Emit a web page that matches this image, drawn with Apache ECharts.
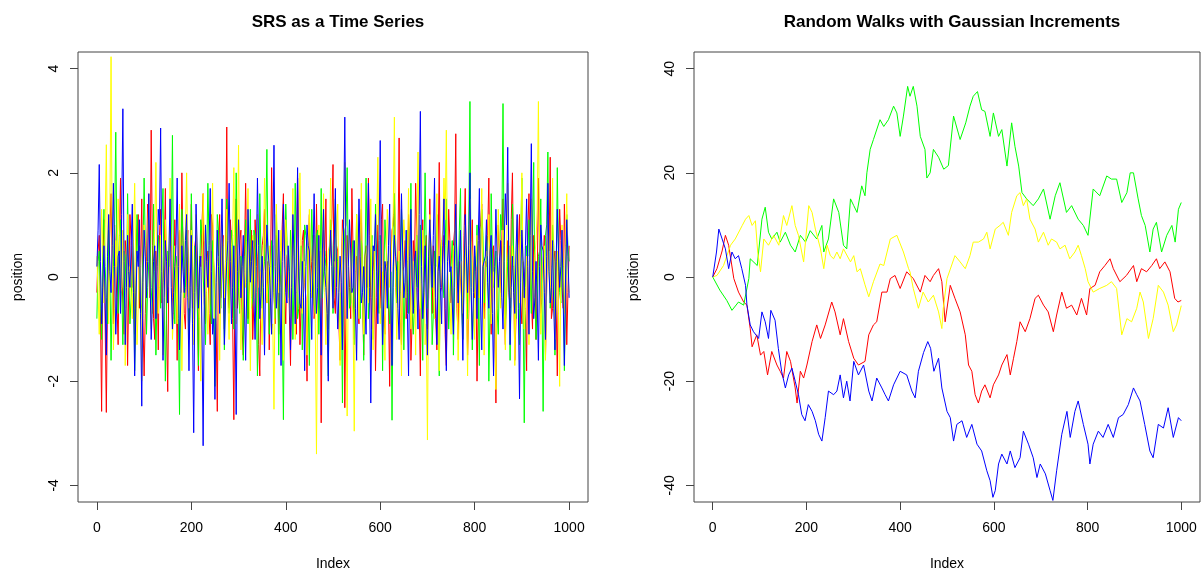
<!DOCTYPE html>
<html>
<head>
<meta charset="utf-8">
<script src="https://cdn.jsdelivr.net/npm/echarts@6/dist/echarts.min.js"></script>
<style>
html,body{margin:0;padding:0;background:#fff;}
#chart{width:1201px;height:576px;}
</style>
</head>
<body>
<div id="chart"></div>
<script>
// ---------- data ----------
const titles = ['SRS as a Time Series', 'Random Walks with Gaussian Increments'];
const xName = 'Index';
const yName = 'position';
const xTicks = [0, 200, 400, 600, 800, 1000];
const ySrsTicks = [-4, -2, 0, 2, 4];
const yWalkTicks = [-40, -20, 0, 20, 40];
const seriesColors = ['#ff0000', '#00ff00', '#ffff00', '#0000ff'];
const indexRange = [0, 1000];

// SRS values, read along the index axis (evenly spaced from index 0 to 1000)
const srsRed = [-0.3,0.5,0.8,-0.6,-2.58,0.2,1.1,-0.9,-2.6,-0.4,0.4,0.9,1.6,0.3,-0.9,1.0,0.2,-0.5,-1.3,0.6,
1.9,0.1,-0.5,-1.1,0.7,0.4,-1.7,-0.2,1.2,0.7,-0.2,0.5,-1.1,-0.3,0.9,1.2,-0.6,0.2,1.5,-0.8,
-1.9,-0.7,0.3,1.4,1.0,-0.4,2.82,0.6,-0.8,-1.2,0.5,0.1,-1.4,0.8,1.3,-0.5,-0.1,0.4,1.7,-0.9,
-2.2,0.3,0.6,1.1,-0.4,-0.8,1.1,0.2,-1.6,0.7,0.9,-0.3,2.0,0.5,-0.7,-1.0,0.4,0.9,-1.2,0.1,
1.4,-0.6,-0.3,0.6,0.8,-0.2,-1.8,0.4,0.2,1.0,1.6,-0.5,-0.9,0.3,0.5,-0.7,-1.3,1.2,1.0,0.2,
-0.5,-0.9,-2.58,0.5,1.2,-0.4,0.1,0.8,-1.0,0.3,2.88,-0.2,-0.6,1.1,0.7,-0.8,-2.74,0.0,1.5,-0.6,
-0.2,0.7,0.9,-1.0,-1.5,0.4,1.8,0.2,-0.8,-0.3,0.3,0.9,-1.2,-0.5,1.1,0.6,0.4,-1.3,-1.9,0.1,
0.6,0.8,1.3,-0.4,-0.5,0.3,-1.4,-0.1,2.1,0.5,-0.3,-0.9,0.8,0.6,-1.1,-0.2,0.2,1.0,1.6,-0.3,
-0.9,0.4,0.5,-0.6,-1.7,0.2,1.0,0.7,-0.4,-1.1,1.9,0.3,-1.3,-0.5,0.7,0.9,-0.1,-0.4,-2.0,0.6,
1.2,-0.2,0.3,0.8,-0.8,-0.6,1.4,0.1,-0.6,0.5,-2.8,-0.3,0.9,0.4,1.5,-0.7,-1.0,0.2,0.2,1.1,
2.16,-0.4,-0.7,0.6,0.5,-0.9,-1.6,0.0,1.1,0.7,-2.51,-0.5,0.8,0.3,-0.2,-0.8,1.7,0.5,-1.2,0.2,
0.4,-0.6,-0.9,0.9,1.3,-0.3,-1.5,0.4,0.6,-0.2,1.9,0.8,-0.4,-1.0,0.1,0.6,-1.8,-0.4,1.0,0.3,
-0.6,1.1,1.4,-0.7,-1.1,0.2,0.3,-0.5,-2.1,0.4,0.9,1.0,1.6,-0.2,-0.5,0.5,2.67,-0.8,-1.3,0.1,
0.2,0.7,-0.8,-0.3,1.2,0.6,-1.6,-0.9,0.7,0.2,1.8,0.9,-0.3,-0.6,-1.9,0.3,1.1,-0.1,0.4,0.8,
-1.0,-0.4,1.5,0.2,-0.7,0.6,0.2,-0.8,-1.4,0.5,2.2,-0.3,-0.2,0.4,0.8,-1.1,-1.7,0.1,1.3,0.7,
-0.5,-0.2,0.6,0.9,2.75,-0.6,-1.2,0.3,0.3,-0.4,-0.9,0.8,1.7,0.0,-1.5,-0.7,0.5,0.6,1.1,-0.3,
-0.4,0.2,-2.0,-0.5,0.9,1.0,1.4,-0.4,-0.8,0.3,0.2,0.8,1.9,-0.2,-1.1,0.5,0.6,-0.9,-2.42,0.1,
1.0,0.4,-0.3,0.7,1.5,-0.6,-1.3,0.2,0.7,-0.3,-0.6,1.1,2.0,0.0,-1.6,-0.8,0.4,0.6,1.2,-0.5,
-0.9,0.3,0.1,-0.7,-1.8,0.9,1.6,0.2,-0.4,-1.0,0.8,0.4,-1.2,-0.1,1.9,0.6,-0.7,-0.4,0.3,0.8,
-1.5,-0.2,1.1,0.5,2.3,-0.8,-0.6,0.3,0.5,-0.5,-1.9,0.1,1.3,0.7,-0.2,-0.6,1.4,0.4,-1.3,-0.3,0.6];
const srsGreen = [-0.8,0.3,0.5,-0.4,-1.2,0.6,1.3,0.2,-0.4,-0.9,0.9,0.1,-1.6,-0.3,0.2,1.0,2.78,0.4,-0.7,0.8,
1.1,-0.2,-1.3,0.5,0.4,-0.6,1.6,0.2,-0.9,-0.4,0.1,0.7,-1.8,-0.5,1.2,0.3,0.6,-0.8,-0.5,0.4,
1.9,0.6,-1.1,-0.2,0.3,0.9,-0.2,-0.7,1.4,0.1,-1.5,-0.3,0.8,0.5,-0.6,1.1,1.7,-0.4,-2.0,-0.6,
0.5,0.2,1.0,0.6,2.72,-0.1,-0.9,0.4,0.2,-0.8,-2.64,0.3,1.3,0.7,-0.4,-0.2,0.9,0.5,-1.2,-0.6,
1.6,0.2,-0.8,0.6,0.4,-0.5,-1.7,0.1,1.1,0.8,0.0,-0.4,-1.3,0.3,1.8,0.7,-0.5,-0.9,0.7,0.2,
-2.1,-0.3,1.2,0.9,-0.3,-0.6,0.6,0.4,-1.4,-0.1,1.5,0.5,-0.7,-0.2,0.9,0.8,-1.0,0.0,2.0,0.6,
-0.2,-0.7,0.4,0.3,-1.6,-0.4,1.1,0.5,-0.9,0.2,1.3,-0.6,-0.4,0.9,0.8,-0.3,-1.9,-0.5,1.6,0.4,
-0.6,0.1,0.3,1.0,2.45,0.2,-1.1,-0.5,0.7,0.6,-0.3,-0.8,1.2,0.3,-1.5,-0.2,0.5,-0.9,-2.74,0.1,
1.4,0.7,-0.2,-0.4,0.9,0.5,-1.2,-0.1,1.8,0.3,-0.8,-0.6,0.1,0.6,-1.4,-0.3,1.0,0.8,0.6,-0.5,
-1.7,0.2,1.3,0.4,-0.5,-0.7,0.8,0.9,-1.1,0.0,1.7,-0.4,-0.4,0.5,0.2,-0.8,-1.9,0.3,1.1,0.6,
-0.7,-0.2,1.5,0.4,0.3,-0.6,-1.0,-0.3,-2.42,0.2,0.9,1.0,2.1,0.1,-0.6,-0.5,0.4,0.7,-1.3,-0.2,
1.2,0.3,-0.1,-0.8,0.7,0.5,-1.6,0.0,1.9,0.6,-0.8,-0.4,0.5,0.8,-1.2,-0.3,1.4,0.2,-0.3,-0.7,
0.8,0.4,-1.8,-0.1,1.1,0.6,0.2,-0.5,-0.9,0.1,-2.75,-0.2,1.6,0.7,-0.5,0.3,0.3,-0.6,1.3,0.5,
-1.4,-0.3,0.6,0.9,-0.7,0.2,1.8,-0.4,-1.1,-0.6,0.4,0.8,-0.2,0.1,1.0,-0.5,-1.6,0.3,2.0,0.6,
-0.6,-0.2,0.9,0.4,-1.3,-0.7,0.5,0.2,1.2,-0.3,-1.9,0.5,0.7,-0.1,-0.4,0.6,1.5,0.1,-1.0,-0.4,
0.2,0.7,-1.5,-0.2,1.1,0.3,-0.3,0.9,1.7,-0.5,-1.2,0.0,0.6,0.4,-0.8,1.0,3.37,-0.3,-1.4,-0.6,
0.4,0.2,1.0,-0.4,-1.7,0.5,1.3,0.8,-0.5,-0.2,0.8,0.3,-2.0,-0.7,1.6,0.4,-0.2,0.1,0.5,-0.6,
-1.1,0.2,1.2,0.9,3.33,0.3,-0.9,-0.4,0.3,0.6,-1.6,-0.1,1.4,0.5,-0.4,-0.8,0.9,0.2,-1.3,0.7,
1.9,-0.5,-2.8,-0.2,0.6,0.4,1.1,0.0,-0.7,0.8,2.2,-0.3,-1.2,-0.6,0.4,0.5,1.5,-0.4,-2.58,-0.1,
0.8,1.0,2.4,0.2,-0.6,-0.3,1.0,0.6,-1.5,-0.2,2.1,0.4,-0.3,-0.5,0.7,0.1,-1.8,-0.4,1.2,0.6,0.3];
const srsYellow = [0.4,-0.3,-1.1,0.2,1.3,0.6,-0.5,1.0,2.54,0.3,-0.9,1.2,4.23,0.5,-1.4,-0.6,0.7,0.2,1.5,0.8,
-0.3,-0.2,0.9,0.4,-1.7,-0.5,1.2,0.1,0.2,-0.4,-0.8,0.7,1.8,0.3,-1.3,-0.6,0.5,0.2,-2.0,-0.3,
1.0,0.5,-0.4,0.8,1.6,-0.1,-1.0,-0.5,0.3,0.9,2.2,0.4,-0.7,-0.2,0.8,0.3,-1.5,-0.6,1.1,0.6,
-0.2,0.2,1.9,0.4,-1.2,-0.7,0.6,0.1,-0.9,0.5,1.4,-0.3,-1.8,-0.4,0.2,0.9,2.0,0.3,-0.6,-0.2,
0.9,0.6,-1.3,-0.5,1.2,0.4,-0.1,-0.8,-2.0,0.1,1.6,0.7,0.4,-0.3,-1.1,-0.4,0.7,0.5,1.8,0.2,
-0.8,-0.6,0.3,0.4,-1.6,-0.2,1.0,0.6,-0.4,0.3,1.3,-0.5,-1.2,-0.1,0.6,0.8,2.1,0.2,-0.9,0.6,
2.53,-0.2,-1.4,-0.6,0.5,0.1,-0.2,0.7,1.7,-0.3,-1.8,-0.4,0.8,0.5,-0.6,0.3,1.2,-0.2,0.1,-0.7,
-1.3,0.4,1.9,0.6,-0.5,-0.1,0.6,0.2,-1.0,-0.9,-2.54,0.0,1.4,0.5,-0.3,0.3,0.9,-0.4,-1.6,0.2,
1.1,0.6,0.2,-0.5,-0.8,0.4,1.7,0.1,-1.2,-0.3,0.4,0.8,2.0,0.3,-0.7,-0.2,0.3,-0.6,-1.5,0.5,
1.3,0.2,-0.4,-0.1,0.8,-0.9,-3.40,-0.2,1.0,0.4,-0.9,0.7,1.6,-0.3,-1.3,0.1,0.5,0.6,1.9,-0.2,
-0.6,0.3,0.2,0.8,1.4,-0.4,-1.7,0.0,0.7,1.0,2.2,-0.5,-2.67,0.2,0.9,0.4,-0.3,-0.8,-2.96,0.1,
1.2,0.5,-0.8,0.3,1.8,-0.2,-1.1,-0.4,0.4,0.6,-0.5,0.2,1.5,-0.3,-1.4,0.5,0.6,0.9,2.3,0.1,
-0.9,-0.4,0.1,-0.6,-1.6,0.3,1.3,0.6,-0.2,0.2,0.8,1.2,3.07,0.0,-1.2,-0.5,0.5,-0.3,-1.9,0.4,
1.1,0.7,-0.4,0.3,1.7,-0.2,-1.0,-0.6,0.3,0.2,-1.5,0.8,2.4,0.4,-0.6,-0.1,0.9,0.5,-1.3,-0.9,
-3.13,-0.1,1.2,0.6,0.4,-0.2,-0.8,0.3,1.6,-0.4,-1.8,-0.3,0.7,0.9,1.9,1.1,2.82,0.2,-0.3,-0.5,
-1.1,0.0,0.6,0.5,1.4,-0.2,-1.6,-0.6,0.2,0.3,-0.7,0.4,1.0,-0.5,-1.9,0.1,1.5,0.7,0.3,-0.4,
-1.2,0.2,0.8,0.6,-0.4,0.3,1.7,-0.1,-1.5,-0.6,0.5,0.4,1.2,0.0,-0.9,-0.3,0.1,-0.7,-2.16,0.2,
1.3,0.5,-0.6,0.1,0.9,-0.5,-1.4,0.4,1.8,0.6,-0.2,-0.4,0.6,0.2,-1.7,-0.3,1.1,0.5,-0.5,0.8,
2.0,0.1,-1.0,-0.6,0.4,0.3,-1.3,0.2,1.5,-0.2,-0.8,0.4,0.7,1.3,3.37,0.3,-1.1,-0.5,0.3,0.6,
-1.6,-0.2,1.2,0.5,-0.4,0.2,1.9,-0.3,-1.2,-0.4,0.5,-0.7,-2.1,0.3,1.0,0.2,-0.7,0.6,1.6,0.1,-0.3];
const srsBlue = [0.2,0.9,2.16,0.3,-0.9,-0.2,0.6,-0.5,-1.5,0.4,1.2,0.1,-0.3,0.6,1.8,0.2,-1.1,-0.4,0.4,0.5,
-0.7,1.2,3.23,0.3,-1.3,-0.2,0.8,0.1,-0.2,0.6,1.4,-0.3,-1.9,-0.6,0.5,0.2,1.1,-0.7,-2.48,-0.1,
0.9,0.4,-0.4,0.3,1.6,0.0,-1.2,-0.5,0.3,0.6,-0.8,0.2,1.3,1.0,2.86,0.1,-1.6,-0.4,0.7,0.3,
-0.5,0.5,1.5,-0.2,-1.0,-0.3,0.2,0.6,1.9,0.2,-1.4,-0.5,0.6,0.1,-0.3,0.7,1.2,-0.4,-1.8,-0.2,
0.8,-0.9,-2.99,-0.3,1.4,0.5,-0.6,0.2,0.4,-1.0,-3.24,-0.4,1.0,0.3,-0.2,0.6,1.7,0.1,-1.1,-0.8,
-2.35,-0.1,0.9,0.2,-0.7,0.5,1.5,0.0,-1.3,-0.4,0.3,0.7,1.8,0.3,-0.9,-0.2,0.6,-0.6,-2.64,0.1,
1.1,0.4,-0.4,0.2,0.8,-0.5,-1.6,-0.1,1.3,0.5,-0.1,0.3,0.7,-0.4,-1.2,0.2,1.9,0.6,-0.8,-0.3,
0.4,-0.2,-1.5,0.1,1.0,0.5,0.2,-0.4,-1.1,0.6,2.53,0.2,-0.6,-0.1,0.9,-0.3,-1.7,0.3,1.4,0.4,
-0.3,-0.5,0.6,0.1,-1.4,-0.2,1.2,0.4,-0.9,0.5,2.1,0.0,-0.5,-0.6,0.3,-0.4,-1.8,0.2,1.0,0.6,
0.5,-0.3,-1.2,0.3,1.6,0.2,-0.7,-0.2,0.8,-0.4,-1.5,0.5,1.3,0.1,-0.2,-0.7,-2.0,0.3,0.9,0.2,
-0.6,0.6,1.7,-0.2,-1.0,-0.3,0.4,-0.1,-1.4,1.1,3.07,0.4,-0.8,0.2,1.1,0.5,-0.3,-0.2,0.7,-0.6,
-1.6,0.0,1.5,0.4,-0.5,-0.3,0.2,-0.5,-1.1,0.6,1.8,-0.2,-2.42,-0.4,0.6,0.5,1.2,0.1,-0.9,0.7,
2.62,0.2,-1.3,-0.5,0.3,0.1,-0.6,0.6,1.4,-0.3,-1.7,0.2,0.8,0.4,0.1,-0.6,-1.2,0.3,1.6,0.5,
-0.4,-0.1,0.9,-0.7,-1.9,0.4,1.3,0.0,-0.7,0.3,0.5,-0.2,-1.0,1.2,3.18,0.2,-0.8,-0.3,0.6,-0.5,
-1.5,0.4,1.1,0.5,-0.2,0.8,1.9,-0.4,-1.3,0.1,0.4,-0.2,-0.9,0.6,1.5,-0.6,-1.8,0.3,0.7,0.1,
0.2,-0.5,-1.1,0.5,1.4,0.2,-0.5,0.3,0.9,-0.4,-1.6,0.0,1.2,0.4,-0.3,0.6,2.0,-0.2,-1.2,-0.3,
0.6,0.1,-0.8,0.7,1.7,-0.5,-1.4,0.2,0.3,0.4,1.1,-0.1,-0.6,0.5,0.8,-0.7,-1.9,0.2,1.3,0.4,
-0.2,0.3,0.7,-0.4,-1.0,0.6,1.6,1.0,2.49,0.0,-1.3,-0.2,0.4,-0.3,-0.7,0.5,1.2,-0.6,-2.34,-0.1,
0.9,0.3,-0.4,0.6,1.5,0.2,-1.1,0.8,2.56,0.1,-0.8,-0.4,0.3,-0.5,-1.6,0.2,1.0,0.6,0.5,-0.3,
-1.2,0.4,1.8,0.1,-0.5,-0.2,0.7,-0.6,-1.4,0.3,1.3,0.5,-0.2,0.2,0.9,-0.5,-1.7,0.0,1.1,0.4,-0.4];

// Random walks: [index, position] readings taken along each line
const walkRed = [[0,0],[9,1.6],[20,5],[27,8],[34,6.1],[45,-0.3],[55,-2.9],[66,-4.8],[73,-5.4],[80,-9.9],[84,-13.4],[94,-11.1],[102,-15],[109,-14.3],[117,-18.8],[126,-14.3],[137,-16.9],[144,-18.1],[151,-19.4],[158,-14.3],[166,-16.2],[176,-21.3],[180,-24.2],[187,-18.1],[194,-19.4],[201,-16.9],[212,-12.4],[222,-9.2],[230,-11.8],[240,-9.2],[254,-4.8],[261,-6.7],[272,-11.1],[279,-8],[290,-12.4],[301,-15.6],[311,-16.9],[325,-16.2],[333,-11.1],[343,-9.2],[350,-8.6],[361,-2.9],[372,-2.9],[379,-0.3],[389,0.3],[400,-2.2],[414,1],[428,-0.3],[443,-2.9],[453,0.3],[464,-0.9],[471,0.3],[482,1.6],[489,-0.9],[496,-8.6],[507,-1.6],[517,-4.1],[528,-6.7],[539,-11.1],[546,-16.9],[553,-18.1],[560,-22.6],[567,-24.2],[574,-21.9],[581,-20.7],[592,-23.2],[599,-20.7],[610,-18.8],[617,-16.9],[628,-14.9],[635,-18.8],[642,-15.6],[649,-12.4],[656,-8.6],[667,-10.5],[677,-8],[688,-4.1],[695,-3.5],[706,-5.4],[716,-6.7],[727,-10.5],[734,-7.3],[745,-2.9],[755,-6],[766,-5.4],[777,-7.3],[787,-4.1],[798,-7.3],[805,-2.2],[816,-1.6],[826,1],[837,2.2],[848,3.5],[855,1.6],[869,-0.9],[883,0.3],[898,2.2],[905,-0.9],[915,1.6],[926,1],[937,2.2],[947,3.5],[954,1.6],[965,2.9],[976,1],[986,-4.1],[993,-4.8],[1000,-4.5]];
const walkGreen = [[0,0],[15,-2.5],[30,-4.5],[41,-6.4],[55,-4.8],[66,-5.4],[77,-0.3],[80,3.5],[95,2.2],[105,11.1],[112,13.4],[119,8.6],[126,7.3],[137,8.6],[144,6.7],[155,8.6],[166,6.1],[176,4.8],[187,8.0],[198,6.7],[208,8.9],[222,7.3],[233,9.9],[237,4.8],[247,7.3],[258,15],[269,12.4],[279,6.1],[286,5.4],[294,15],[301,13.7],[308,12.4],[318,17.5],[325,15.6],[329,20],[336,24.5],[343,26.4],[357,30.2],[365,28.9],[375,30.2],[386,32.8],[393,31.5],[400,27],[407,30.9],[416,36.6],[421,34.7],[428,36.6],[436,32.8],[443,27],[453,24.5],[457,19],[464,20],[471,24.5],[482,23],[493,20.7],[503,21.4],[514,30.9],[528,26.4],[540,29.6],[549,32.8],[556,34.7],[565,35.6],[574,32.1],[581,31.8],[592,27],[599,31.5],[610,27],[617,28.3],[628,21.3],[638,29.6],[645,25.1],[653,21.3],[660,16.2],[670,15],[684,13.7],[695,15],[706,16.9],[720,11.1],[731,15.6],[741,18.1],[755,12.4],[766,13.7],[780,11.1],[791,9.9],[801,8.0],[812,16.9],[826,15.6],[841,19.4],[851,18.8],[862,18.8],[873,14.3],[884,16.2],[891,20],[898,20],[908,15],[915,11.8],[923,9.9],[933,4.8],[940,9.2],[947,10.5],[958,4.8],[969,8.0],[980,9.9],[987,6.7],[994,13],[1000,14.3]];
const walkYellow = [[0,0],[9,0.3],[23,2.2],[38,6.1],[48,7.3],[63,9.9],[70,11.1],[77,11.8],[84,9.9],[91,10.8],[96,4.8],[102,1],[109,7.3],[119,6.1],[130,8],[141,6.1],[151,11.8],[158,9.9],[169,13.7],[176,9.9],[183,8],[194,2.9],[205,13.7],[212,12.4],[219,9.2],[230,5.4],[237,1.6],[244,6.1],[251,4.1],[258,3.5],[265,4.8],[272,3.5],[279,5.4],[294,2.9],[301,4.1],[308,1],[315,1.6],[325,-1.5],[333,-3.8],[343,-0.9],[357,2.5],[365,2.2],[379,7.3],[393,8],[407,4.8],[418,1.6],[421,1],[428,-2.2],[439,-6.0],[449,-2.9],[460,-4.8],[471,-3.5],[482,-6.7],[489,-9.9],[492,-6],[500,-0.3],[507,1.5],[517,4.1],[528,2.9],[539,1.6],[549,4.1],[556,6.7],[567,6.7],[578,7.3],[585,8.6],[592,5.4],[603,9.2],[613,9.9],[620,10.5],[631,8],[638,12.4],[649,15.6],[656,16.2],[663,13.7],[670,15],[677,11.1],[688,9.2],[695,6.7],[706,8.6],[716,6.1],[723,7.3],[734,6.7],[741,5.4],[752,6.1],[762,3.5],[773,4.8],[780,6.1],[787,4.1],[795,1.6],[801,-0.9],[812,-2.9],[826,-2.2],[841,-1.6],[851,-0.9],[862,-2.2],[873,-11.1],[884,-8],[894,-8.6],[905,-6],[912,-2.9],[919,-4.8],[930,-11.8],[940,-8],[951,-1.6],[962,-2.9],[972,-5.4],[983,-10.5],[990,-9.2],[1000,-5.5]];
const walkBlue = [[0,0],[8,4.8],[13,9.2],[20,7.3],[27,5.4],[34,1.6],[41,4.8],[48,3.5],[55,4.1],[62,1.6],[66,1.6],[70,-1.6],[73,-5.4],[80,-9.2],[87,-10.5],[98,-11.8],[105,-6.7],[112,-8.6],[119,-11.8],[124,-6.4],[133,-8.3],[140,-13.7],[147,-18.1],[155,-21.3],[162,-18.8],[169,-17.5],[176,-20],[183,-22.6],[190,-26.4],[197,-27.6],[204,-24.5],[212,-25.8],[219,-27.6],[226,-30.2],[233,-31.5],[240,-27],[247,-21.9],[258,-22.6],[265,-21.9],[272,-18.8],[279,-23.2],[286,-20],[293,-23.8],[301,-16.2],[311,-18.8],[322,-16.9],[333,-21.9],[340,-23.8],[350,-19.4],[361,-21.3],[368,-22.6],[375,-23.8],[386,-20.7],[400,-18.1],[414,-18.8],[425,-21.9],[432,-23.2],[439,-18.1],[450,-14.5],[459,-12.4],[465,-13.7],[472,-18.1],[482,-15.6],[489,-21.3],[500,-25.8],[507,-27],[514,-31.5],[521,-28.3],[532,-27.6],[542,-30.8],[553,-28.3],[564,-32.1],[574,-33.4],[585,-37.2],[592,-39.1],[598,-42.3],[603,-41],[610,-35.9],[617,-34],[628,-35.9],[635,-33.4],[645,-36.6],[656,-34.7],[663,-29.6],[674,-32.1],[684,-34.7],[692,-38.5],[699,-35.9],[710,-37.8],[720,-41],[726,-42.9],[734,-37.2],[745,-30.2],[756,-25.8],[763,-30.8],[773,-25.8],[780,-23.8],[791,-28.3],[801,-32.1],[805,-35.9],[812,-32.1],[823,-29.6],[833,-30.8],[844,-28.3],[855,-30.8],[866,-27],[876,-26.4],[887,-24.5],[898,-21.3],[905,-22.6],[912,-23.8],[922,-28.3],[933,-33.4],[940,-34.7],[951,-28.3],[962,-29],[972,-25.1],[983,-30.8],[994,-27],[1000,-27.6]];

// ---------- chart ----------
const FONT = "'Liberation Sans', Arial, sans-serif";
const srsSets = [srsRed, srsGreen, srsYellow, srsBlue];
const walkSets = [walkRed, walkGreen, walkYellow, walkBlue];

function xAxisFor(gridIndex) {
  return {
    type: 'value', gridIndex, min: -40, max: 1040,
    name: xName, nameLocation: 'middle', nameGap: 55,
    nameTextStyle: { fontFamily: FONT, fontSize: 14, color: '#000' },
    axisLine: { show: false, onZero: false },
    axisTick: { show: true, length: 8, inside: false, customValues: xTicks, lineStyle: { color: '#444', width: 1 } },
    axisLabel: { show: true, customValues: xTicks, margin: 19, fontFamily: FONT, fontSize: 14, color: '#000',
      formatter: v => String(v) },
    splitLine: { show: false }
  };
}
function yAxisFor(gridIndex, lim, ticks) {
  return {
    type: 'value', gridIndex, min: -lim, max: lim,
    name: yName, nameLocation: 'middle', nameGap: 53, nameRotate: 90,
    nameTextStyle: { fontFamily: FONT, fontSize: 14, color: '#000' },
    axisLine: { show: false, onZero: false },
    axisTick: { show: true, length: 8, inside: false, customValues: ticks, lineStyle: { color: '#444', width: 1 } },
    axisLabel: { show: true, customValues: ticks, rotate: 90, margin: 17, fontFamily: FONT, fontSize: 14, color: '#000',
      formatter: v => String(v) },
    splitLine: { show: false }
  };
}

const series = [];
srsSets.forEach((vals, s) => {
  const step = (indexRange[1] - indexRange[0]) / (vals.length - 1);
  series.push({
    type: 'line', xAxisIndex: 0, yAxisIndex: 0,
    data: vals.map((v, k) => [indexRange[0] + k * step, v]),
    showSymbol: false, symbol: 'none', silent: true,
    lineStyle: { color: seriesColors[s], width: 1 }, z: 2 + s
  });
});
walkSets.forEach((pts, s) => {
  series.push({
    type: 'line', xAxisIndex: 1, yAxisIndex: 1,
    data: pts,
    showSymbol: false, symbol: 'none', silent: true,
    lineStyle: { color: seriesColors[s], width: 1 }, z: 2 + s
  });
});

const chart = echarts.init(document.getElementById('chart'), null, { renderer: 'canvas' });
chart.setOption({
  animation: false,
  backgroundColor: '#ffffff',
  title: [
    { text: titles[0], left: 333, top: 8, textAlign: 'center',
      textStyle: { fontFamily: FONT, fontSize: 17, fontWeight: 'bold', color: '#000', lineHeight: 18 } },
    { text: titles[1], left: 947, top: 8, textAlign: 'center',
      textStyle: { fontFamily: FONT, fontSize: 17, fontWeight: 'bold', color: '#000', lineHeight: 18 } }
  ],
  grid: [
    { left: 78, top: 52, width: 510, height: 452, show: true, borderColor: '#444', borderWidth: 1, backgroundColor: 'transparent', containLabel: false },
    { left: 694, top: 52, width: 506, height: 452, show: true, borderColor: '#444', borderWidth: 1, backgroundColor: 'transparent', containLabel: false }
  ],
  xAxis: [xAxisFor(0), xAxisFor(1)],
  yAxis: [yAxisFor(0, 4.32, ySrsTicks), yAxisFor(1, 43.2, yWalkTicks)],
  series
});
</script>
</body>
</html>
